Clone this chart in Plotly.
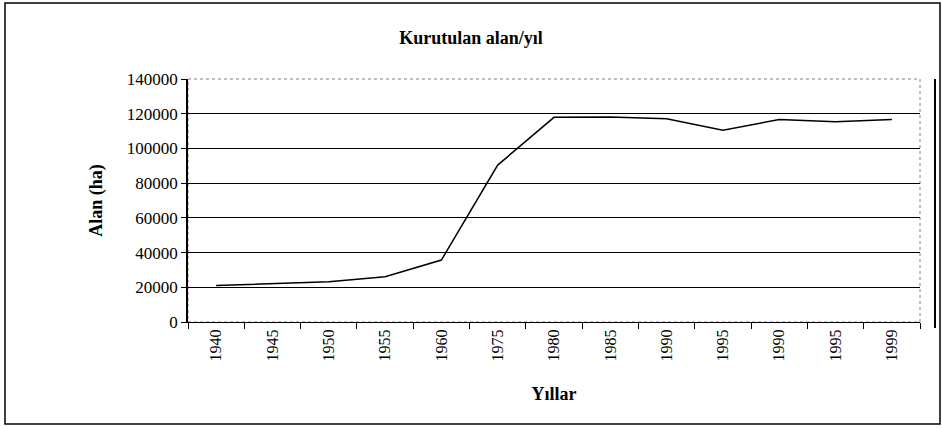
import plotly.graph_objs as go

# =============================================================================
# Data
# =============================================================================
years = ["1940", "1945", "1950", "1955", "1960", "1975", "1980",
         "1985", "1990", "1995", "1990", "1995", "1999"]
area_ha = [21000, 21900, 23200, 26100, 35700, 90400, 117900,
           118100, 117100, 110500, 116600, 115300, 116600]
y_ticks = [0, 20000, 40000, 60000, 80000, 100000, 120000, 140000]
y_labels = [str(v) for v in y_ticks]

# years repeat (1990, 1995 twice) so plot on positions and label them
pos = list(range(len(years)))

serif = "Liberation Serif, Times New Roman, serif"

fig = go.Figure()
fig.add_trace(go.Scatter(x=pos, y=area_ha, mode="lines",
                         line=dict(color="black", width=1.5),
                         showlegend=False, hoverinfo="y"))

fig.update_layout(
    width=942, height=428,
    margin=dict(l=188, r=22, t=79, b=106),
    paper_bgcolor="white", plot_bgcolor="white",
    title=dict(text="<b>Kurutulan alan/yıl</b>", x=0.5, xanchor="center",
               y=1 - 38 / 428, yanchor="middle",
               font=dict(family=serif, size=18, color="black")),
    font=dict(family=serif, color="black"),
)

fig.update_xaxes(
    automargin=False,
    range=[-0.5, len(years) - 0.5],
    tickmode="array", tickvals=pos, ticktext=years, tickangle=-90,
    ticks="", tickfont=dict(family=serif, size=16, color="black"),
    minor=dict(ticks="outside", tick0=-0.5, dtick=1, ticklen=6,
               tickcolor="black", showgrid=False),
    showgrid=False, zeroline=False,
    showline=True, linecolor="black", linewidth=1,
    title=dict(text="<b>Yıllar</b>", standoff=26,
               font=dict(family=serif, size=18, color="black")),
)

fig.update_yaxes(
    automargin=False,
    range=[0, 140000], tickmode="array", tickvals=y_ticks, ticktext=y_labels,
    ticks="outside", ticklen=5, tickcolor="black",
    tickfont=dict(family=serif, size=17, color="black"),
    showgrid=True, gridcolor="black", gridwidth=1,
    zeroline=False, showline=True, linecolor="black", linewidth=1.5,
    title=dict(text="<b>Alan (ha)</b>", standoff=20,
               font=dict(family=serif, size=18, color="black")),
)

# dotted plot-area frame, outer chart border and the right-hand bar
fig.add_shape(type="rect", xref="paper", yref="paper", x0=0, y0=0, x1=1, y1=1,
              line=dict(color="gray", width=1, dash="dot"), layer="below")
fig.add_shape(type="rect", xref="paper", yref="paper",
              x0=-183 / 732, y0=-102 / 243, x1=1 + 20 / 732, y1=1 + 76 / 243,
              line=dict(color="black", width=1.5))
fig.add_shape(type="line", xref="paper", yref="paper",
              x0=1 + 15 / 732, x1=1 + 15 / 732, y0=-6 / 243, y1=1,
              line=dict(color="black", width=2))

# page body has a default margin, drop it so the figure sits at 0,0
fig.write_html("out.html", config={"displayModeBar": False},
               post_script="document.body.style.margin='0';")
